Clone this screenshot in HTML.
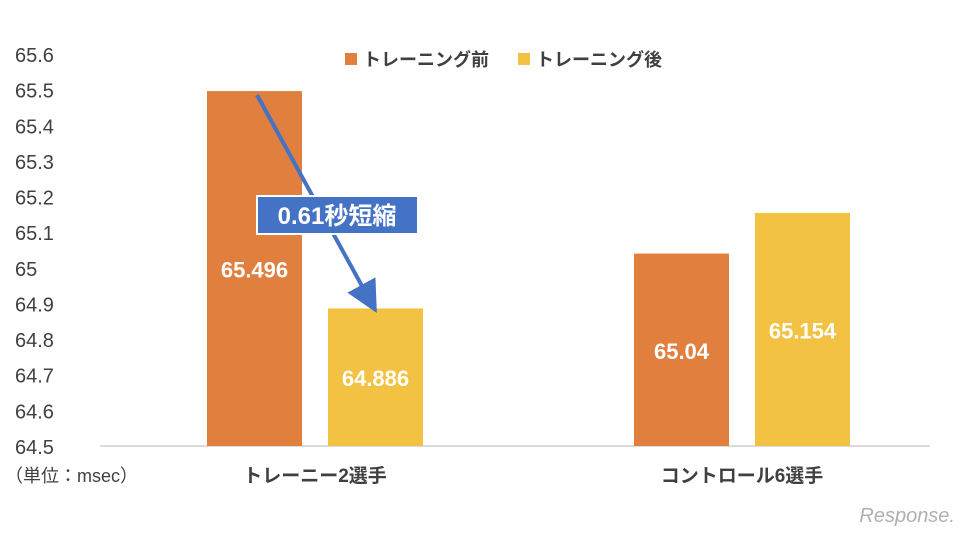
<!DOCTYPE html>
<html><head><meta charset="utf-8"><style>
body{margin:0;background:#fff;font-family:"Liberation Sans","Noto Sans CJK JP",sans-serif;}
svg text{font-family:"Liberation Sans","Noto Sans CJK JP",sans-serif;}
</style></head><body>
<svg id="c" width="968" height="533" xmlns="http://www.w3.org/2000/svg"></svg>
<script>
const categories=["トレーニー2選手","コントロール6選手"];
const seriesNames=["トレーニング前","トレーニング後"];
const before=[65.496,65.04];
const after=[64.886,65.154];
const ticks=[64.5,64.6,64.7,64.8,64.9,65,65.1,65.2,65.3,65.4,65.5,65.6];
const colors=["#E07F3E","#F4C242"];
const svg=document.getElementById('c');
const NS="http://www.w3.org/2000/svg";
function y(v){return 446-(v-64.5)/1.1*392;}
const groupX=[207,634];
function add(tag,attrs,parent){const e=document.createElementNS(NS,tag);for(const k in attrs)e.setAttribute(k,attrs[k]);(parent||svg).appendChild(e);return e;}
ticks.forEach(t=>{const e=add('text',{x:15,y:y(t)+8,'font-size':20,fill:'#404040'});e.textContent=String(t);

});
const ax=add('line',{x1:100,x2:930,y1:446,y2:446,stroke:'#d0d0d0','stroke-width':1.5});


[before,after].forEach((s,si)=>{s.forEach((v,i)=>{
 const x=groupX[i]+si*121;
 const r=add('rect',{x:x,y:y(v),width:95,height:446-y(v),fill:colors[si]});
 
 
 const t=add('text',{x:x+47.5,y:(y(v)+446)/2+9,'font-size':22,'font-weight':'bold',fill:'#fff','text-anchor':'middle'});
 t.textContent=String(v);
 
 
});});
categories.forEach((c,i)=>{const t=add('text',{x:groupX[i]+108,y:482,'font-size':19,'font-weight':'bold',fill:'#404040','text-anchor':'middle'});t.textContent=c;

});
const u=add('text',{x:5,y:482,'font-size':18,fill:'#404040'});u.textContent='（単位：msec）';


const lx=[345,518];
seriesNames.forEach((n,i)=>{const r=add('rect',{x:lx[i],y:53,width:12,height:12,fill:colors[i]});


const t=add('text',{x:lx[i]+18,y:66,'font-size':18,'font-weight':'bold',fill:'#404040'});t.textContent=n;

});
// arrow
add('defs',{}).innerHTML='<marker id="ah" markerWidth="8" markerHeight="8" refX="6" refY="4" orient="auto"><path d="M0,0 L8,4 L0,8 z" fill="#4472C4"/></marker>';
const ar=add('line',{x1:257,y1:95,x2:373,y2:306,stroke:'#4472C4','stroke-width':4,'marker-end':'url(#ah)'});


const b=add('rect',{x:257,y:196,width:161,height:38,fill:'#4472C4',stroke:'#fff','stroke-width':2});


const bt=add('text',{x:337,y:224,'font-size':24,'font-weight':'bold',fill:'#fff','text-anchor':'middle'});bt.textContent='0.61秒短縮';


const wm=add('text',{x:955,y:522,'font-size':20,'font-style':'italic',fill:'#b0b0b0','text-anchor':'end'});wm.textContent='Response.';


</script>
</body></html>
